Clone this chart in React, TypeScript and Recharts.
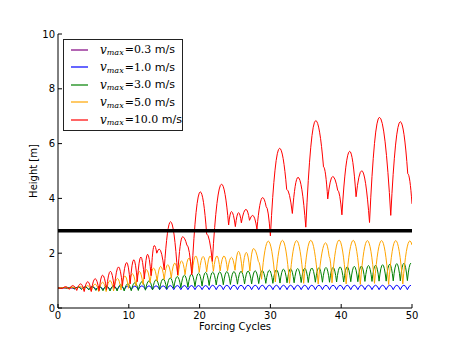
import React from 'react';
import { LineChart, Line, XAxis, YAxis, ReferenceLine, Legend } from 'recharts';

// forcing-cycle axis and height axis
const xTicks = [0, 10, 20, 30, 40, 50];
const yTicks = [0, 2, 4, 6, 8, 10];
const vmaxLabels = ['0.3', '1.0', '3.0', '5.0', '10.0'];
const seriesColors = ['#800080', '#0000ff', '#008000', '#ffa500', '#ff0000'];
const threshold = 2.82;

// v = 0.3 m/s stays on the plate (hidden under the others)
const purplePts = [[0, 0.73], [1.5, 0.73], [2.5, 0.72]];

// v = 1.0 and 3.0: one bounce per cycle, trough then peak
const cycles = Array.from({ length: 50 }, (_, i) => i);
const bounceAt = [0.35, 0.85];
const blueTroughs = [0.72, 0.71, 0.7, 0.69, 0.68, 0.68, 0.67, 0.67, 0.67, 0.67, 0.67, 0.67, 0.67, 0.67, 0.67, 0.67, 0.67, 0.67, 0.67, 0.67, 0.67, 0.67, 0.67, 0.67, 0.67, 0.67, 0.67, 0.67, 0.67, 0.67, 0.67, 0.67, 0.67, 0.67, 0.67, 0.67, 0.67, 0.67, 0.67, 0.67, 0.67, 0.67, 0.67, 0.67, 0.67, 0.67, 0.67, 0.67, 0.67, 0.67];
const bluePeaks = [0.74, 0.75, 0.76, 0.77, 0.78, 0.78, 0.79, 0.79, 0.8, 0.8, 0.8, 0.81, 0.81, 0.81, 0.81, 0.82, 0.82, 0.82, 0.82, 0.82, 0.82, 0.83, 0.83, 0.83, 0.83, 0.83, 0.83, 0.83, 0.83, 0.83, 0.83, 0.83, 0.83, 0.83, 0.83, 0.83, 0.83, 0.83, 0.83, 0.83, 0.83, 0.83, 0.83, 0.83, 0.83, 0.83, 0.83, 0.83, 0.83, 0.83];
const greenTroughs = [0.72, 0.71, 0.7, 0.68, 0.66, 0.64, 0.63, 0.62, 0.62, 0.62, 0.63, 0.64, 0.65, 0.66, 0.68, 0.7, 0.72, 0.74, 0.76, 0.78, 0.8, 0.82, 0.84, 0.85, 0.86, 0.87, 0.88, 0.88, 0.89, 0.9, 0.9, 0.91, 0.92, 0.92, 0.93, 0.93, 0.94, 0.94, 0.94, 0.95, 0.95, 0.96, 0.96, 0.97, 0.97, 0.98, 0.98, 0.99, 0.99, 1.0];
const greenPeaks = [0.75, 0.76, 0.76, 0.77, 0.78, 0.79, 0.8, 0.82, 0.85, 0.88, 0.92, 0.96, 0.99, 1.03, 1.06, 1.1, 1.15, 1.2, 1.24, 1.27, 1.3, 1.31, 1.32, 1.33, 1.33, 1.34, 1.35, 1.36, 1.37, 1.38, 1.4, 1.42, 1.43, 1.44, 1.45, 1.46, 1.47, 1.48, 1.48, 1.5, 1.5, 1.52, 1.53, 1.55, 1.56, 1.58, 1.6, 1.62, 1.63, 1.64];

// v = 5.0: troughs and apexes
const orangePts = [
  [0, 0.73], [1.0, 0.74], [1.5, 0.71], [2.1, 0.76], [2.6, 0.68], [3.15, 0.79], [3.65, 0.65], [4.2, 0.82],
  [4.7, 0.62], [5.25, 0.87], [5.75, 0.6], [6.3, 0.94], [6.8, 0.6], [7.35, 1.0], [7.85, 0.62], [8.4, 1.08],
  [8.9, 0.66], [9.45, 1.17], [9.95, 0.72], [10.5, 1.25], [11.0, 0.8], [11.5, 1.33], [12.0, 0.86], [12.5, 1.4],
  [13.0, 0.92], [13.5, 1.46], [14.0, 0.98], [14.5, 1.52], [15.0, 1.04], [15.5, 1.58], [16.0, 1.1], [16.5, 1.64],
  [16.95, 1.18], [17.45, 1.72], [17.95, 1.22], [18.5, 1.82], [18.95, 1.28], [19.45, 1.9], [19.95, 1.3], [20.5, 1.88],
  [21.0, 1.32], [21.5, 1.9], [21.95, 1.34], [22.45, 1.9], [22.9, 1.35], [23.45, 1.9], [23.95, 1.36], [24.5, 1.85],
  [25.0, 1.38], [25.5, 2.07], [26.05, 1.3], [26.6, 2.03], [27.1, 1.35], [27.6, 2.17], [28.3, 1.7], [28.75, 1.05],
  [29.7, 2.44], [30.7, 0.95], [31.7, 2.47], [32.7, 0.9], [33.7, 2.46], [34.7, 0.9], [35.7, 2.47], [36.75, 0.88],
  [37.8, 2.38], [38.3, 1.88], [38.7, 0.92], [39.7, 2.48], [40.7, 0.88], [41.7, 2.47], [42.7, 0.86], [43.7, 2.46],
  [44.7, 0.9], [45.7, 2.46], [46.7, 0.86], [47.7, 2.46], [48.7, 0.88], [49.7, 2.45], [50, 2.3],
];

// v = 10.0
const redPts = [
  [0, 0.73], [0.6, 0.71], [1.1, 0.78], [1.6, 0.68], [2.1, 0.82], [2.65, 0.64], [3.2, 0.88], [3.7, 0.6],
  [4.2, 0.96], [4.7, 0.6], [5.25, 1.07], [5.8, 0.63], [6.3, 1.2], [6.85, 0.67], [7.4, 1.34], [7.95, 0.72],
  [8.55, 1.5], [9.1, 0.8], [9.7, 1.66], [10.2, 0.88], [10.7, 1.76], [11.2, 0.96], [11.7, 1.86], [12.2, 1.06],
  [12.65, 1.96], [13.15, 1.18], [13.6, 2.28], [13.95, 2.0], [14.3, 2.15], [15.0, 1.39], [15.9, 3.15], [16.9, 1.21],
  [17.6, 2.6], [18.2, 2.3], [18.9, 1.21], [20.1, 4.24], [21.0, 2.7], [21.8, 1.7], [23.1, 4.52], [24.1, 3.03],
  [24.5, 3.52], [25.05, 2.97], [25.5, 3.48], [25.9, 3.11], [26.55, 3.6], [27.05, 3.2], [27.5, 3.38], [28.1, 2.88],
  [28.9, 4.03], [29.4, 3.7], [30.0, 2.63], [31.3, 5.83], [32.3, 4.33], [33.1, 3.45], [33.9, 4.77], [35.0, 2.95],
  [36.4, 6.84], [37.5, 5.15], [38.1, 3.98], [38.8, 4.8], [39.5, 4.3], [40.1, 3.4], [41.2, 5.72], [42.1, 4.06],
  [42.9, 5.01], [44.0, 3.12], [45.4, 6.96], [47.0, 3.38], [48.35, 6.8], [49.4, 4.9], [50, 3.8],
];

const toRows = (pts: number[][]) => pts.map(([x, y]) => ({ x, y }));
const fromCycles = (troughs: number[], peaks: number[]) => [
  { x: 0, y: 0.73 },
  ...cycles.flatMap((k) => [
    { x: k + bounceAt[0], y: troughs[k] },
    { x: k + bounceAt[1], y: peaks[k] },
  ]),
];

const seriesData = [
  toRows(purplePts),
  fromCycles(blueTroughs, bluePeaks),
  fromCycles(greenTroughs, greenPeaks),
  toRows(orangePts),
  toRows(redPts),
];

// ballistic arcs: round apex, sharp impact
function bounceCurve(context: any) {
  let px = 0;
  let py = 0;
  let n = 0;
  return {
    areaStart() {},
    areaEnd() {},
    lineStart() {
      n = 0;
    },
    lineEnd() {},
    point(x: number, y: number) {
      x = +x;
      y = +y;
      if (n === 0) context.moveTo(x, y);
      else context.quadraticCurveTo((px + x) / 2, Math.min(py, y), x, y);
      px = x;
      py = y;
      n += 1;
    },
  };
}

const FONT = '"DejaVu Sans", sans-serif';
const SERIF = '"DejaVu Serif", serif';
const TICK = 4;
const GAP = 3;

function LeftTick(props: any) {
  const { x, y, payload } = props;
  const ax = x + GAP;
  return (
    <g>
      <line x1={ax} x2={ax + TICK} y1={y} y2={y} stroke="#000" />
      <text x={x} y={y} dy="0.36em" textAnchor="end" fontSize={10} fontFamily={FONT} fill="#000">
        {payload.value}
      </text>
    </g>
  );
}

function BottomTick(props: any) {
  const { x, y, payload } = props;
  const ay = y - GAP;
  return (
    <g>
      <line x1={x} x2={x} y1={ay} y2={ay - TICK} stroke="#000" />
      <text x={x} y={y} dy="0.78em" textAnchor="middle" fontSize={10} fontFamily={FONT} fill="#000">
        {payload.value}
      </text>
    </g>
  );
}

function TopTick(props: any) {
  const { x, y } = props;
  return <line x1={x} x2={x} y1={y} y2={y + TICK} stroke="#000" />;
}

function RightTick(props: any) {
  const { x, y } = props;
  return <line x1={x} x2={x - TICK} y1={y} y2={y} stroke="#000" />;
}

function YTitle(props: any) {
  const vb = props.viewBox || { x: 0, y: 34, width: 58, height: 274 };
  const cx = vb.x + 33;
  const cy = vb.y + vb.height / 2;
  return (
    <text x={cx} y={cy} transform={`rotate(-90 ${cx} ${cy})`} textAnchor="middle" dominantBaseline="central" fontSize={10} fontFamily={FONT} fill="#000">
      Height [m]
    </text>
  );
}

function XTitle(props: any) {
  const vb = props.viewBox || { x: 58, y: 308, width: 354, height: 35 };
  return (
    <text x={vb.x + vb.width / 2} y={vb.y + 22} textAnchor="middle" fontSize={10} fontFamily={FONT} fill="#000">
      Forcing Cycles
    </text>
  );
}

function LegendBox() {
  return (
    <div style={{ width: 120, height: 92, boxSizing: 'border-box', border: '1px solid #222', background: '#fff', paddingTop: 1 }}>
      {vmaxLabels.map((v, i) => (
        <div key={v} style={{ height: 17.5, display: 'flex', alignItems: 'center', whiteSpace: 'nowrap', color: '#000' }}>
          <div style={{ width: 17, height: 2, marginLeft: 7, marginRight: 12, backgroundColor: seriesColors[i], opacity: 0.6, flex: 'none' }} />
          <span style={{ fontFamily: SERIF, fontStyle: 'italic', fontSize: 12 }}>v</span>
          <span style={{ fontFamily: SERIF, fontStyle: 'italic', fontSize: 8, position: 'relative', top: 3, marginRight: 1 }}>max</span>
          <span style={{ fontFamily: SERIF, fontSize: 11 }}>={v}</span>
          <span style={{ fontFamily: FONT, fontSize: 11 }}>&nbsp;m/s</span>
        </div>
      ))}
    </div>
  );
}

export default function App() {
  return (
    <div style={{ position: 'absolute', left: 0, top: 0, background: '#fff' }}>
      <LineChart width={458} height={343} margin={{ top: 34, right: 46, bottom: 0, left: 0 }}>
        <XAxis
          dataKey="x"
          type="number"
          domain={[0, 50]}
          ticks={xTicks}
          allowDataOverflow
          height={35}
          tickSize={0}
          tickMargin={GAP}
          tickLine={false}
          axisLine={{ stroke: '#000' }}
          tick={<BottomTick />}
          label={<XTitle />}
        />
        <XAxis xAxisId="top" orientation="top" type="number" domain={[0, 50]} ticks={xTicks} height={0} tickSize={0} tickMargin={0} tickLine={false} axisLine={{ stroke: '#000' }} tick={<TopTick />} />
        <YAxis
          type="number"
          domain={[0, 10]}
          ticks={yTicks}
          allowDataOverflow
          width={58}
          tickSize={0}
          tickMargin={GAP}
          tickLine={false}
          axisLine={{ stroke: '#000' }}
          tick={<LeftTick />}
          label={<YTitle />}
        />
        <YAxis yAxisId="right" orientation="right" type="number" domain={[0, 10]} ticks={yTicks} width={0} tickSize={0} tickMargin={0} tickLine={false} axisLine={{ stroke: '#000' }} tick={<RightTick />} />
        {seriesData.map((d, i) => (
          <Line
            key={vmaxLabels[i]}
            data={d}
            dataKey="y"
            name={vmaxLabels[i]}
            type={bounceCurve as any}
            stroke={seriesColors[i]}
            strokeWidth={1}
            dot={false}
            activeDot={false}
            isAnimationActive={false}
          />
        ))}
        <ReferenceLine y={threshold} stroke="#000" strokeWidth={3.5} />
        <Legend
          layout="vertical"
          align="center"
          verticalAlign="middle"
          content={<LegendBox />}
          wrapperStyle={{ position: 'absolute', left: 63, top: 39, width: 120, height: 92 }}
        />
      </LineChart>
    </div>
  );
}
